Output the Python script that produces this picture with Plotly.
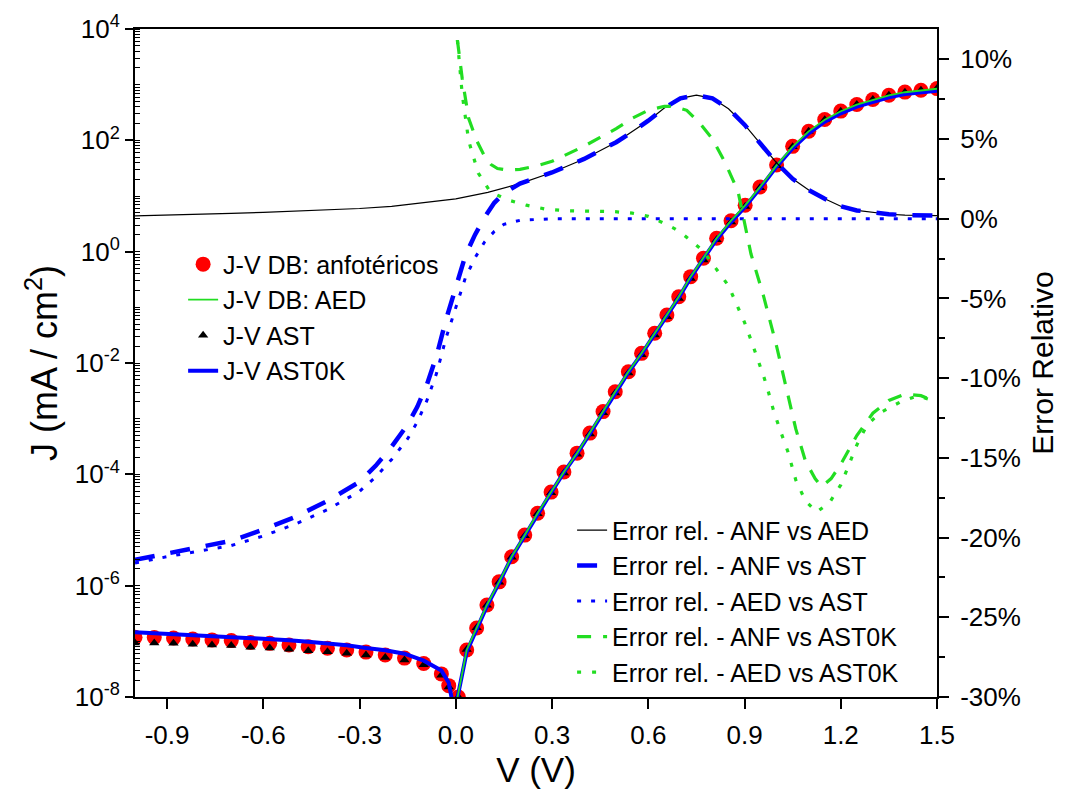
import plotly.graph_objects as go

# ---------------- J-V data (|J| in mA/cm^2) ----------------
V_jv = [-1.00, -0.94, -0.88, -0.82, -0.76, -0.70, -0.64, -0.58, -0.52, -0.46,
        -0.40, -0.34, -0.28, -0.22, -0.16, -0.10, -0.045, -0.022,
        0.008, 0.034, 0.065, 0.097, 0.135, 0.174, 0.215, 0.255, 0.297, 0.337,
        0.378, 0.418, 0.459, 0.497, 0.538, 0.579, 0.620, 0.658, 0.695, 0.732,
        0.772, 0.813, 0.858, 0.902, 0.948, 1.00, 1.05, 1.10, 1.15, 1.20, 1.25,
        1.30, 1.35, 1.40, 1.45, 1.50]

J_anf = [1.18e-7, 1.17e-7, 1.15e-7, 1.10e-7, 1.06e-7, 1.03e-7, 9.5e-8, 9.2e-8, 8.6e-8, 8.0e-8,
         7.5e-8, 7.0e-8, 6.4e-8, 5.7e-8, 5.0e-8, 4.0e-8, 2.6e-8, 1.6e-8,
         1.0e-8, 7.0e-8, 1.74e-7, 4.5e-7, 1.17e-6, 3.3e-6, 8.1e-6, 2.0e-5, 4.8e-5, 1.1e-4,
         2.4e-4, 5.5e-4, 1.34e-3, 3.05e-3, 6.98e-3, 1.49e-2, 3.42e-2, 7.3e-2, 0.155, 0.356,
         0.76, 1.74, 3.6, 6.8, 14.5, 36, 78, 146, 236, 335, 440,
         540, 645, 735, 795, 850]

J_ast = [9.3e-8, 9.3e-8, 9.2e-8, 8.9e-8, 8.6e-8, 8.4e-8, 7.8e-8, 7.6e-8, 7.2e-8, 6.8e-8,
         6.5e-8, 6.1e-8, 5.7e-8, 5.1e-8, 4.6e-8, 3.8e-8, 2.45e-8, 1.52e-8,
         1.0e-8, 7.1e-8, 1.75e-7, 4.45e-7, 1.15e-6, 3.25e-6, 7.9e-6, 1.95e-5, 4.65e-5, 1.06e-4,
         2.3e-4, 5.3e-4, 1.28e-3, 2.9e-3, 6.6e-3, 1.4e-2, 3.2e-2, 6.8e-2, 0.144, 0.33,
         0.71, 1.63, 3.4, 6.5, 14.0, 35, 77, 145, 235, 334, 439,
         539, 644, 734, 794, 849]

V_aed = [0.004, 0.034, 0.065, 0.097, 0.135, 0.174, 0.215, 0.255, 0.297, 0.337,
         0.378, 0.418, 0.459, 0.497, 0.538, 0.579, 0.620, 0.658, 0.695, 0.732,
         0.772, 0.813, 0.858, 0.902, 0.948, 1.00, 1.05, 1.10, 1.15, 1.20, 1.25,
         1.30, 1.35, 1.40, 1.45, 1.50]
J_aed = [9.0e-9, 7.0e-8, 1.74e-7, 4.5e-7, 1.17e-6, 3.3e-6, 8.1e-6, 2.0e-5, 4.8e-5, 1.1e-4,
         2.4e-4, 5.5e-4, 1.34e-3, 3.05e-3, 6.98e-3, 1.49e-2, 3.42e-2, 7.3e-2, 0.155, 0.356,
         0.76, 1.74, 3.6, 6.8, 14.4, 35.5, 77, 145, 234, 333, 437,
         537, 641, 731, 790, 845]

V_ast0k = [-1.00, -0.94, -0.88, -0.82, -0.76, -0.70, -0.64, -0.58, -0.52, -0.46,
           -0.40, -0.34, -0.28, -0.22, -0.16, -0.10, -0.045, -0.022, -0.012, 0.004,
           0.034, 0.065, 0.097, 0.135, 0.174, 0.215, 0.255, 0.297, 0.337,
           0.378, 0.418, 0.459, 0.497, 0.538, 0.579, 0.620, 0.658, 0.695, 0.732,
           0.772, 0.813, 0.858, 0.902, 0.948, 1.00, 1.05, 1.10, 1.15, 1.20, 1.25,
           1.30, 1.35, 1.40, 1.45, 1.50]
J_ast0k = [1.46e-7, 1.40e-7, 1.35e-7, 1.30e-7, 1.26e-7, 1.22e-7, 1.18e-7, 1.12e-7, 1.05e-7, 9.8e-8,
           9.2e-8, 8.5e-8, 7.6e-8, 6.9e-8, 6.0e-8, 4.5e-8, 3.0e-8, 1.8e-8, 9.0e-9, 9.0e-9,
           6.5e-8, 1.62e-7, 4.3e-7, 1.13e-6, 3.2e-6, 7.9e-6, 1.95e-5, 4.7e-5, 1.08e-4,
           2.35e-4, 5.4e-4, 1.31e-3, 2.98e-3, 6.8e-3, 1.45e-2, 3.3e-2, 7.0e-2, 0.149, 0.342,
           0.73, 1.66, 3.4, 6.4, 13.7, 33.7, 72, 134, 216, 306, 402,
           494, 593, 680, 733, 780]

# ---------------- Relative error data (%) ----------------
V_e_anf_aed = [-1.0, -0.9, -0.8, -0.7, -0.6, -0.5, -0.4, -0.3, -0.2, -0.1, 0.0, 0.1, 0.2, 0.3,
               0.4, 0.5, 0.55, 0.6, 0.65, 0.7, 0.75, 0.8, 0.85, 0.9, 0.95, 1.0, 1.05, 1.1,
               1.15, 1.2, 1.25, 1.3, 1.35, 1.4, 1.45, 1.5]
E_anf_aed = [0.18, 0.22, 0.27, 0.33, 0.40, 0.47, 0.55, 0.64, 0.78, 1.0, 1.25, 1.65, 2.2, 2.9,
             3.75, 4.8, 5.45, 6.15, 6.95, 7.55, 7.75, 7.55, 6.9, 5.9, 4.7, 3.5, 2.5, 1.8,
             1.25, 0.78, 0.52, 0.38, 0.28, 0.23, 0.2, 0.19]

V_e_anf_ast = [-1.0, -0.9, -0.8, -0.7, -0.6, -0.5, -0.4, -0.3, -0.25, -0.2, -0.15, -0.12,
               -0.09, -0.06, -0.03, 0.0, 0.03, 0.06, 0.09, 0.12, 0.15, 0.2, 0.3, 0.4, 0.5,
               0.55, 0.6, 0.65, 0.7, 0.75, 0.8, 0.85, 0.9, 0.95, 1.0, 1.05, 1.1, 1.15, 1.2,
               1.25, 1.3, 1.35, 1.4, 1.45, 1.5]
E_anf_ast = [-21.4, -21.0, -20.6, -20.2, -19.5, -18.7, -17.7, -16.5, -15.5, -14.3, -12.9, -11.8,
             -10.4, -8.6, -6.3, -4.3, -2.3, -1.0, 0.1, 1.0, 1.6, 2.2, 2.9, 3.75, 4.8,
             5.45, 6.15, 6.95, 7.55, 7.75, 7.55, 6.9, 5.9, 4.7, 3.5, 2.5, 1.8, 1.25, 0.78,
             0.52, 0.38, 0.28, 0.23, 0.2, 0.19]

V_e_aed_ast = [-1.0, -0.9, -0.8, -0.7, -0.6, -0.5, -0.4, -0.3, -0.25, -0.2, -0.15, -0.12,
               -0.09, -0.06, -0.03, 0.0, 0.03, 0.06, 0.09, 0.12, 0.15, 0.2, 0.3, 0.5, 0.8,
               1.1, 1.5]
E_aed_ast = [-21.6, -21.2, -20.85, -20.5, -19.9, -19.15, -18.25, -17.1, -16.2, -15.1, -13.8, -12.75,
             -11.4, -9.7, -7.45, -5.55, -3.7, -2.45, -1.45, -0.8, -0.35, -0.1, 0.0, 0.0, 0.0,
             0.0, 0.0]

V_e_anf_ast0k = [0.005, 0.02, 0.04, 0.065, 0.09, 0.11, 0.13, 0.16, 0.2, 0.25, 0.3, 0.35, 0.4,
                 0.45, 0.5, 0.55, 0.6, 0.65, 0.68, 0.72, 0.76, 0.8, 0.84, 0.88, 0.92, 0.96,
                 1.0, 1.03, 1.06, 1.09, 1.12, 1.14, 1.17, 1.2, 1.25, 1.3, 1.35, 1.4, 1.45, 1.5]
E_anf_ast0k = [11.2, 8.8, 6.3, 4.9, 3.9, 3.4, 3.15, 3.05, 3.1, 3.3, 3.6, 4.05, 4.55,
               5.1, 5.65, 6.3, 6.8, 7.05, 7.05, 6.8, 6.0, 5.0, 3.5, 1.7, -2.2, -4.9,
               -8.0, -10.6, -13.2, -15.2, -16.3, -16.8, -16.3, -15.4, -13.6, -12.2, -11.4, -11.0, -11.1, -11.5]

V_e_aed_ast0k = [0.005, 0.02, 0.04, 0.07, 0.107, 0.16, 0.22, 0.28, 0.35, 0.42, 0.49, 0.55, 0.6,
                 0.64, 0.68, 0.71, 0.74, 0.77, 0.81, 0.85, 0.876, 0.9, 0.92, 0.94, 0.96, 0.975,
                 0.99, 1.01, 1.035, 1.06, 1.09, 1.125, 1.165, 1.2, 1.225, 1.25, 1.28, 1.32, 1.385,
                 1.44, 1.5]
E_aed_ast0k = [11.2, 7.8, 4.9, 2.86, 1.7, 1.19, 0.85, 0.6, 0.5, 0.45, 0.45, 0.35, 0.15,
               -0.2, -0.6, -1.0, -1.5, -2.0, -3.1, -4.2, -5.4, -6.5, -7.6, -8.7, -9.9, -10.9,
               -12.0, -13.2, -14.6, -16.4, -17.7, -18.4, -17.8, -16.7, -15.5, -14.2, -13.0, -12.2, -11.5,
               -11.1, -11.5]

# ---------------- axis labels ----------------
x_ticks = [-0.9, -0.6, -0.3, 0.0, 0.3, 0.6, 0.9, 1.2, 1.5]
x_ticktext = ["-0.9", "-0.6", "-0.3", "0.0", "0.3", "0.6", "0.9", "1.2", "1.5"]
y_exps = [-8, -6, -4, -2, 0, 2, 4]
y2_ticks = [-30, -25, -20, -15, -10, -5, 0, 5, 10]

FONT = "Liberation Sans, Arial, sans-serif"
BLUE = "#0000ff"
GREEN = "#22dd22"
TICK_SIZE = 26
LEG_SIZE = 25

fig = go.Figure()

# J-V traces (left log axis)
fig.add_trace(go.Scatter(x=V_jv, y=J_anf, mode="markers", name="J-V DB: anfotéricos",
                         marker=dict(symbol="circle", size=15, color="#ff0000"),
                         legendrank=1))
fig.add_trace(go.Scatter(x=V_jv, y=J_ast, mode="markers", name="J-V AST",
                         marker=dict(symbol="triangle-up", size=9, color="black"),
                         legendrank=3))
fig.add_trace(go.Scatter(x=V_ast0k, y=J_ast0k, mode="lines", name="J-V AST0K",
                         line=dict(color=BLUE, width=4), legendrank=4))
fig.add_trace(go.Scatter(x=V_aed, y=J_aed, mode="lines", name="J-V DB: AED",
                         line=dict(color=GREEN, width=1.8), legendrank=2))

# Relative error traces (right axis)
err_specs = [
    (V_e_anf_aed, E_anf_aed, "Error rel. - ANF vs AED", dict(color="black", width=1.2, dash="solid")),
    (V_e_anf_ast, E_anf_ast, "Error rel. - ANF vs AST", dict(color=BLUE, width=4.5, dash="20px,16px")),
    (V_e_aed_ast, E_aed_ast, "Error rel. - AED vs AST", dict(color=BLUE, width=3, dash="4px,10px")),
    (V_e_anf_ast0k, E_anf_ast0k, "Error rel. - ANF vs AST0K", dict(color=GREEN, width=3.2, dash="14px,12px")),
    (V_e_aed_ast0k, E_aed_ast0k, "Error rel. - AED vs AST0K", dict(color=GREEN, width=3.2, dash="4px,11px")),
]
for i, (vx, ey, nm, ln) in enumerate(err_specs):
    fig.add_trace(go.Scatter(x=vx, y=ey, mode="lines", name=nm, line=ln,
                             yaxis="y2", legend="legend2", legendrank=i + 1))

fig.update_layout(
    width=1085, height=796,
    margin=dict(l=135, r=148, t=29, b=99),
    paper_bgcolor="white", plot_bgcolor="white",
    font=dict(family=FONT, color="black", size=TICK_SIZE),
    xaxis=dict(range=[-1.0, 1.5], tickmode="array", tickvals=x_ticks, ticktext=x_ticktext,
               ticks="outside", ticklen=10, tickwidth=2, tickcolor="black",
               ticklabelstandoff=4,
               showline=True, linewidth=2, linecolor="black", mirror=True,
               showgrid=False, zeroline=False,
               tickfont=dict(size=TICK_SIZE),
               title=dict(text="V (V)", font=dict(size=35), standoff=6)),
    yaxis=dict(type="log", range=[-8, 4], tickmode="array",
               tickvals=[10.0 ** e for e in y_exps],
               ticktext=["10<sup>%d</sup>" % e for e in y_exps],
               ticks="outside", ticklen=8, tickwidth=2, tickcolor="black",
               minor=dict(ticks="inside", ticklen=5, tickwidth=1, tickcolor="black", dtick="D1", showgrid=False),
               showline=True, linewidth=2, linecolor="black",
               showgrid=False, zeroline=False, tickfont=dict(size=TICK_SIZE),
               title=dict(text="J (mA / cm<sup>2</sup>)", font=dict(size=36), standoff=6)),
    yaxis2=dict(overlaying="y", side="right", range=[-30, 11.9], tickmode="array",
                tickvals=y2_ticks, ticktext=["%d%%" % t for t in y2_ticks],
                ticks="outside", ticklen=10, tickwidth=2, tickcolor="black",
                ticklabelstandoff=6,
                minor=dict(ticks="outside", ticklen=6, tickwidth=1.5, tickcolor="black", dtick=2.5, tick0=0, showgrid=False),
                showline=True, linewidth=2, linecolor="black",
                showgrid=False, zeroline=False, tickfont=dict(size=TICK_SIZE),
                title=dict(text="Error Relativo", font=dict(size=30), standoff=12)),
    legend=dict(x=0.06, y=0.682, xanchor="left", yanchor="top", bgcolor="rgba(0,0,0,0)",
                font=dict(size=LEG_SIZE), tracegroupgap=0, itemwidth=30),
    legend2=dict(x=0.545, y=0.284, xanchor="left", yanchor="top", bgcolor="rgba(0,0,0,0)",
                 font=dict(size=LEG_SIZE), tracegroupgap=0, itemwidth=30),
)

fig.write_html("out.html")
